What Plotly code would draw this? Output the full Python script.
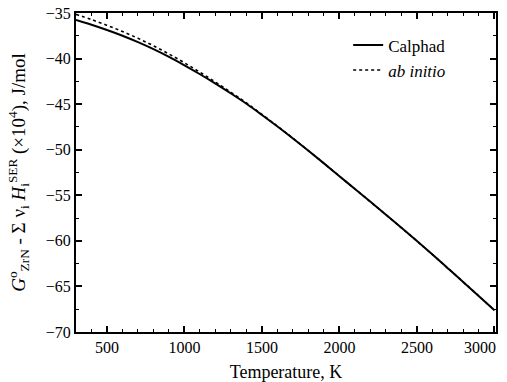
import plotly.graph_objects as go

temperature = [300, 400, 500, 600, 700, 800, 900, 1000, 1100, 1200, 1300, 1400, 1500,
               1600, 1700, 1800, 1900, 2000, 2100, 2200, 2300, 2400, 2500, 2600, 2700,
               2800, 2900, 3000]

calphad = [-35.77, -36.29, -36.87, -37.50, -38.20, -38.97, -39.82, -40.74, -41.72, -42.75,
           -43.83, -44.96, -46.19, -47.46, -48.77, -50.12, -51.50, -52.91, -54.31, -55.72,
           -57.14, -58.57, -60.02, -61.51, -63.02, -64.54, -66.07, -67.61]

ab_initio = [-35.15, -35.72, -36.35, -37.03, -37.78, -38.60, -39.50, -40.47, -41.50, -42.58,
             -43.70, -44.87, -46.13, -47.42, -48.75, -50.12, -51.50, -52.91, -54.31, -55.72,
             -57.14, -58.57, -60.02, -61.51, -63.02, -64.54, -66.07, -67.61]

x_ticks = [500, 1000, 1500, 2000, 2500, 3000]
x_tick_text = ["500", "1000", "1500", "2000", "2500", ""]
last_x_label = "3000"
y_ticks = [-35, -40, -45, -50, -55, -60, -65, -70]

FONT = "Liberation Serif"

fig = go.Figure()
fig.add_trace(go.Scatter(x=temperature, y=calphad, mode="lines", name="Calphad",
                         line=dict(color="black", width=2, shape="spline")))
fig.add_trace(go.Scatter(x=temperature, y=ab_initio, mode="lines", name="<i>ab initio</i>",
                         line=dict(color="black", width=1.6, dash="dot", shape="spline")))

axis_common = dict(
    showline=True, linecolor="black", linewidth=2, mirror="ticks",
    ticks="inside", ticklen=6, tickwidth=1.5, tickcolor="black",
    showgrid=False, zeroline=False, automargin=False,
    tickfont=dict(family=FONT, size=16, color="black"),
)

fig.update_xaxes(range=[300, 3010], tickvals=x_ticks, ticktext=x_tick_text,
                 minor=dict(dtick=100, tick0=0, ticks="inside", ticklen=3, tickwidth=1.2, tickcolor="black"),
                 title=dict(text="Temperature, K", font=dict(family=FONT, size=18, color="black")),
                 **axis_common)
fig.update_yaxes(range=[-70, -35], tickvals=y_ticks,
                 minor=dict(dtick=2.5, tick0=0, ticks="inside", ticklen=3, tickwidth=1.2, tickcolor="black"),
                 title=dict(text="<i>G</i><sup>o</sup><sub>ZrN</sub> - Σ ν<sub>i</sub> <i>H</i><sub>i</sub><sup>SER</sup> (×10<sup>4</sup>), J/mol",
                            font=dict(family=FONT, size=19, color="black")),
                 **axis_common)

fig.add_annotation(x=x_ticks[-1], xref="x", y=0, yref="paper", text=last_x_label,
                   showarrow=False, xanchor="right", yanchor="top", xshift=4, yshift=-5,
                   font=dict(family=FONT, size=16, color="black"))

fig.update_layout(
    width=507, height=382,
    margin=dict(l=76, r=11, t=13, b=50),
    paper_bgcolor="white", plot_bgcolor="white",
    font=dict(family=FONT, color="black"),
    showlegend=True,
    legend=dict(x=0.648, y=0.955, xanchor="left", yanchor="top",
                bgcolor="rgba(0,0,0,0)", borderwidth=0,
                font=dict(family=FONT, size=17, color="black"),
                tracegroupgap=0, itemwidth=30),
)

fig.write_html("out.html")
